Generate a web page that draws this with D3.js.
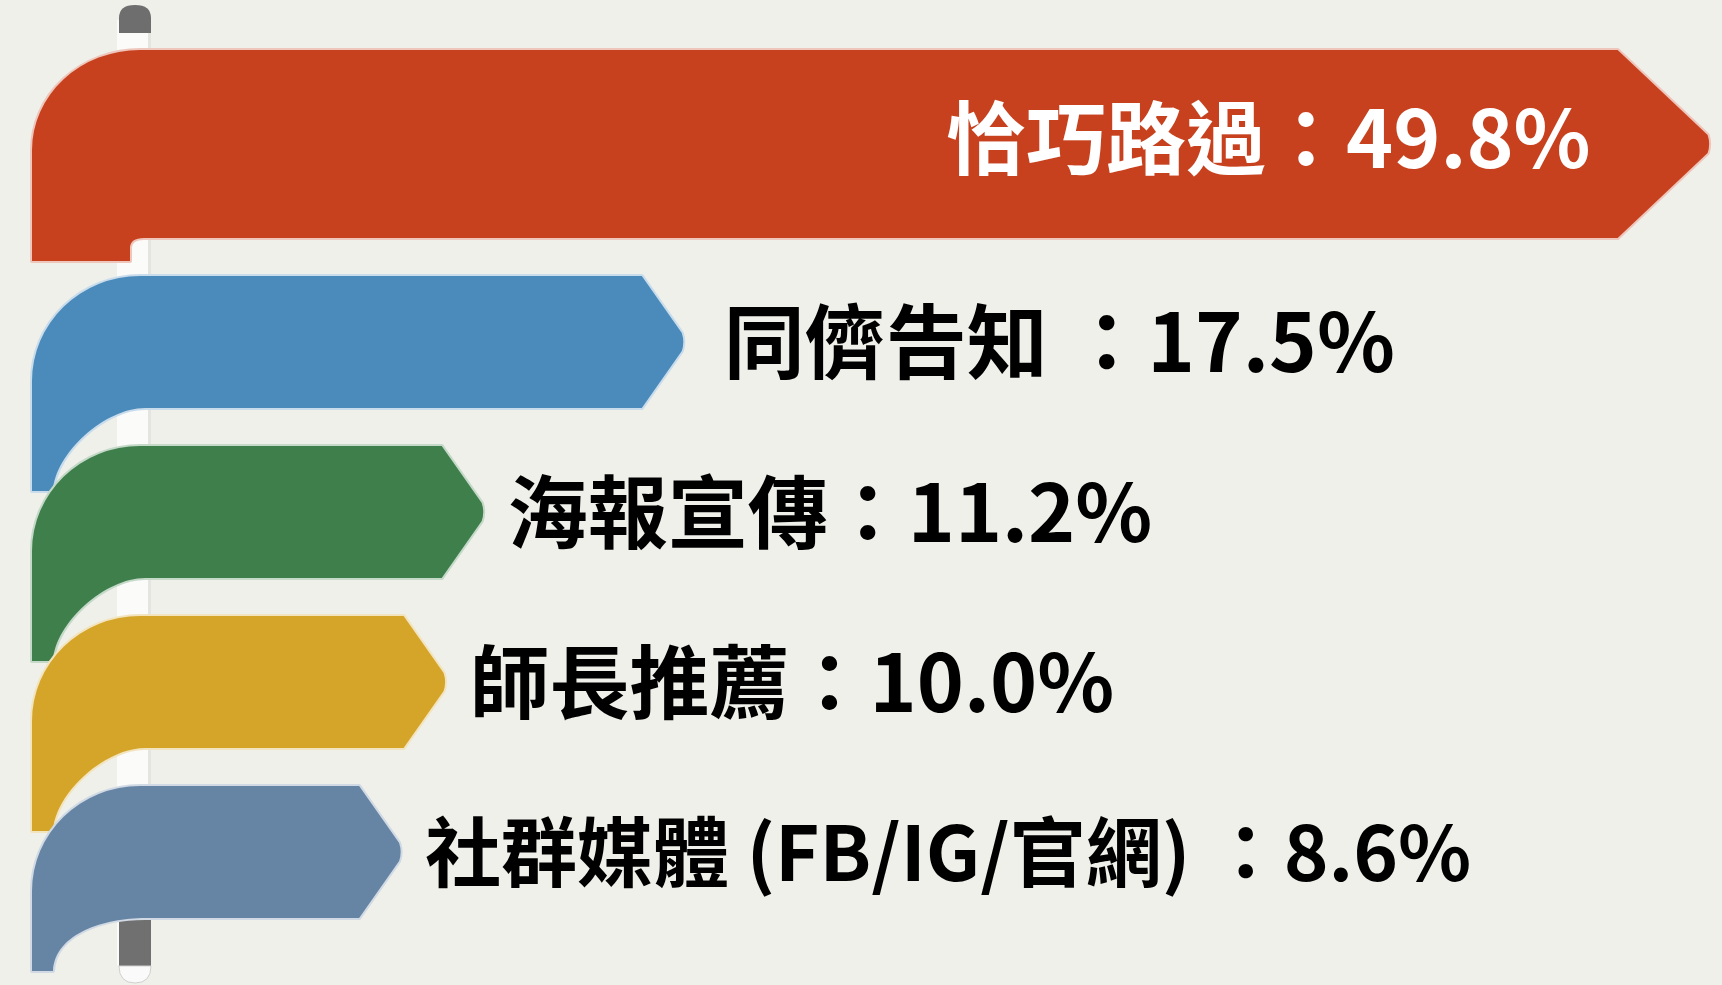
<!DOCTYPE html>
<html>
<head>
<meta charset="utf-8">
<script src="https://cdn.jsdelivr.net/npm/d3@7"></script>
<style>
  html, body { margin: 0; padding: 0; background: #f0f0eb; }
  svg { display: block; }
  text { font-family: "Noto Sans CJK TC", "Noto Sans CJK SC", "Noto Sans", sans-serif; font-weight: 700; }
</style>
</head>
<body>
<svg id="chart" width="1722" height="985"></svg>
<script>
// ---- data ----
const categories = ["恰巧路過", "同儕告知 ", "海報宣傳", "師長推薦", "社群媒體 (FB/IG/官網) "];
const values = [49.8, 17.5, 11.2, 10.0, 8.6];
const colors = ["#c7411e", "#4a8bbb", "#3f7f4b", "#d5a52a", "#6685a4"];

const W = 1722, H = 985;
const svg = d3.select("#chart");
svg.append("rect").attr("width", W).attr("height", H).attr("fill", "#f0f0eb");

// scales
const x = d3.scaleLinear().domain([0, 50]).range([128, 128 + 1588]);
const y = d3.scalePoint().domain(categories).range([172, 852]);

const half = 66;        // half bar height
const L = 32;           // left edge of flag
const P = 140;          // pole side x
const n = categories.length;

function geom(i) {
  const c = y(categories[i]);
  let T = c - half, B = c + half;
  if (i === 0) T = c - 122;
  return { c: (T + B) / 2, T, B };
}

// ---- pole ----
const pole = svg.append("g");
pole.append("rect").attr("x", 117).attr("y", 20).attr("width", 34).attr("height", 945)
  .attr("fill", "#fbfbfa");
pole.append("rect").attr("x", 148).attr("y", 20).attr("width", 3).attr("height", 945)
  .attr("fill", "#e4e4e0");
pole.append("path")
  .attr("d", "M119,33 L119,18 Q119,5 135,5 Q151,5 151,18 L151,33 Z")
  .attr("fill", "#6e6e6e");
pole.append("path")
  .attr("d", "M119,915 L151,915 L151,966 L119,966 Z")
  .attr("fill", "#707070");
pole.append("path")
  .attr("d", "M119,966 L151,966 Q151,983 135,983 Q119,983 119,966 Z")
  .attr("fill", "#fafafa").attr("stroke", "#cfcfcf").attr("stroke-width", 1);

// ---- bars ----
function barPath(i) {
  const { c, T, B } = geom(i);
  const X = x(values[i]);
  const depth = i === 0 ? 92 : 42;
  const E = X - depth;
  const ry = i === 0 ? 100 : 105;
  let d = `M${P},${T} L${E},${T} L${X - 2},${c - 9} Q${X + 1},${c} ${X - 2},${c + 9} L${E},${B}`;
  if (i === 0) {
    const F = B + 23;
    d += ` L${P + 4},${B} Q${P - 10},${B} ${P - 10},${B + 10} L${P - 10},${F} L${L},${F}`;
  } else {
    let F;
    if (i < n - 1) F = geom(i + 1).T + 45;
    else F = B + 53;
    d += ` L${P + 5},${B} C${P - 35},${B} ${L + 23},${F - 38} ${L + 21},${F} L${L},${F}`;
  }
  d += ` L${L},${T + ry} A${P - L},${ry} 0 0 1 ${P},${T} Z`;
  return d;
}

const bars = svg.append("g");
bars.selectAll("path")
  .data(categories)
  .join("path")
  .attr("d", (d, i) => barPath(i))
  .attr("fill", (d, i) => colors[i])
  .attr("stroke", (d, i) => d3.interpolateRgb(colors[i], "#ffffff")(0.7))
  .attr("stroke-width", 4)
  .attr("stroke-linejoin", "round")
  .style("paint-order", "stroke");

// ---- labels ----
const fontSize = i => (i === n - 1 ? 76 : (i === 1 ? 81 : 80));
svg.append("g").selectAll("text")
  .data(categories)
  .join("text")
  .attr("x", (d, i) => i === 0 ? x(values[i]) - 119 : x(values[i]) + (i === 1 ? 40 : 24))
  .attr("y", (d, i) => geom(i).c + (i === 0 ? 24 : (i === n - 1 ? 29 : 30)))
  .attr("text-anchor", (d, i) => i === 0 ? "end" : "start")
  .attr("font-size", (d, i) => fontSize(i))
  .attr("fill", (d, i) => i === 0 ? "#ffffff" : "#000000")
  .style("white-space", "pre")
  .text((d, i) => d + "：" + values[i].toFixed(1) + "%");
</script>
</body>
</html>
